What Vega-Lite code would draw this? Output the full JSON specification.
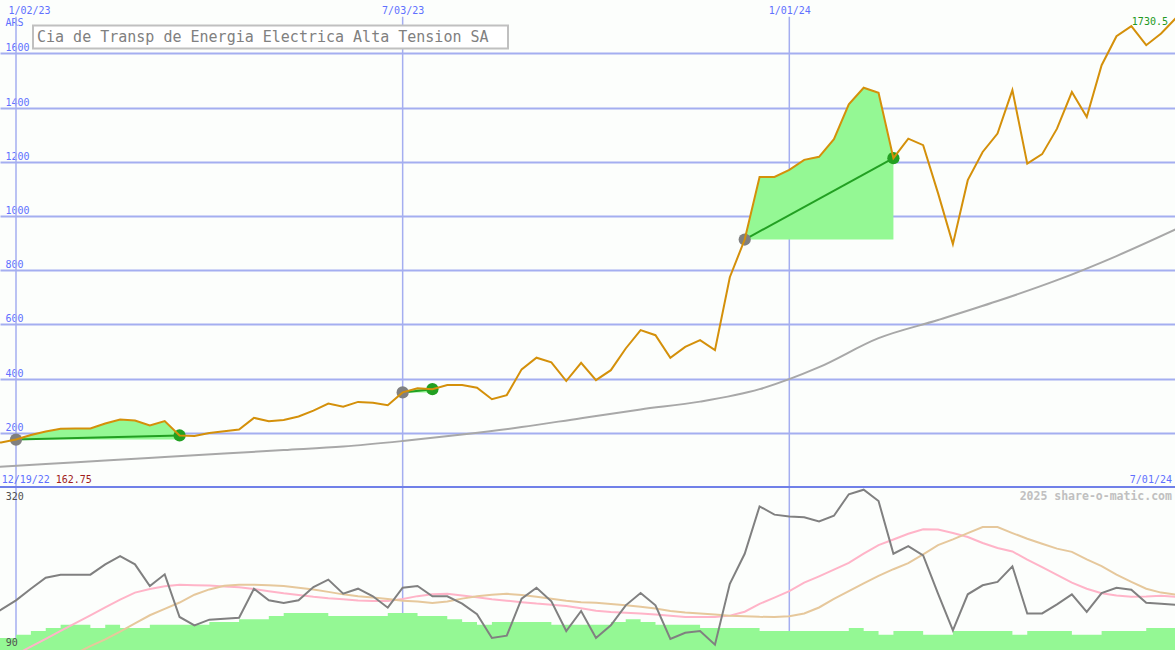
{
"$schema": "https://vega.github.io/schema/vega-lite/v6.json",
"width": 1175, "height": 650, "padding": 0, "autosize": {"type": "none"},
"background": "#fcfefc",
"config": {"view": {"stroke": null}, "axis": {"labelOverlap": false}},
"datasets": {
"weekly": [
{"date":"2022-12-19","price":162.75,"ma":72,"mom":135,"fast":61,"slow":40,"vol":107},
{"date":"2022-12-26","price":164,"mom":147,"fast":72.6,"slow":46,"vol":107},
{"date":"2023-01-02","price":175,"mom":160,"fast":83.7,"slow":52,"vol":111.6,"trade":1},
{"date":"2023-01-09","price":192,"mom":176.5,"fast":94.8,"slow":58,"vol":116.8,"trade":1},
{"date":"2023-01-16","price":205,"ma":85,"mom":192,"fast":105.8,"slow":64,"vol":121,"trade":1},
{"date":"2023-01-23","price":215,"mom":196.3,"fast":117,"slow":75,"vol":125.7,"trade":1},
{"date":"2023-01-30","price":216,"mom":196.3,"fast":128,"slow":85,"vol":125.7,"trade":1},
{"date":"2023-02-06","price":216,"mom":196.3,"fast":139,"slow":95.5,"vol":121,"trade":1},
{"date":"2023-02-13","price":234,"ma":97.7,"mom":210.9,"fast":150,"slow":105,"vol":125.7,"trade":1},
{"date":"2023-02-20","price":249,"mom":222.6,"fast":161,"slow":116,"vol":121,"trade":1},
{"date":"2023-02-27","price":245,"mom":210.9,"fast":171,"slow":127.5,"vol":121,"trade":1},
{"date":"2023-03-06","price":227,"mom":180.3,"fast":176,"slow":139,"vol":125.7,"trade":1},
{"date":"2023-03-13","price":243,"ma":110.6,"mom":196.8,"fast":180,"slow":148,"vol":125.7,"trade":1},
{"date":"2023-03-20","price":190,"mom":136.6,"fast":182,"slow":157,"vol":125.7,"trade":1},
{"date":"2023-03-27","price":188,"mom":124.8,"fast":181.5,"slow":168,"vol":125.7},
{"date":"2023-04-03","price":199,"mom":132.8,"fast":181,"slow":175.5,"vol":129.5},
{"date":"2023-04-10","price":206,"ma":123.5,"mom":134.2,"fast":179.5,"slow":180.5,"vol":129.5},
{"date":"2023-04-17","price":212,"mom":135.6,"fast":178.5,"slow":182.2,"vol":133.3},
{"date":"2023-04-24","price":255,"mom":176.5,"fast":176,"slow":182.2,"vol":133.3},
{"date":"2023-05-01","price":243,"mom":160.1,"fast":173,"slow":181.5,"vol":138},
{"date":"2023-05-08","price":247,"ma":136.4,"mom":156.3,"fast":170,"slow":180.3,"vol":142.2},
{"date":"2023-05-15","price":260,"mom":160.1,"fast":167.5,"slow":178,"vol":142.2},
{"date":"2023-05-22","price":282,"mom":178.9,"fast":165,"slow":175.5,"vol":142.2},
{"date":"2023-05-29","price":308,"mom":189.3,"fast":163,"slow":172,"vol":138},
{"date":"2023-06-05","price":296,"ma":149.3,"mom":169.5,"fast":161.5,"slow":168.5,"vol":138},
{"date":"2023-06-12","price":314,"mom":176.5,"fast":160,"slow":166,"vol":138},
{"date":"2023-06-19","price":311,"mom":165.8,"fast":159.2,"slow":164,"vol":138},
{"date":"2023-06-26","price":302,"mom":149.7,"fast":159.2,"slow":162,"vol":142.2},
{"date":"2023-07-03","price":349,"ma":169.6,"mom":177.9,"fast":162,"slow":159.5,"vol":142.2,"trade":2},
{"date":"2023-07-10","price":364,"mom":180.3,"fast":166,"slow":158.3,"vol":138,"trade":2},
{"date":"2023-07-17","price":361,"mom":165.8,"fast":168.5,"slow":156.3,"vol":138,"trade":2},
{"date":"2023-07-24","price":376,"mom":165.8,"fast":169.5,"slow":158.5,"vol":133.3},
{"date":"2023-07-31","price":376,"ma":193.5,"mom":155.4,"fast":167,"slow":162.5,"vol":129.5},
{"date":"2023-08-07","price":366,"mom":140.4,"fast":164.5,"slow":165.8,"vol":125.7},
{"date":"2023-08-14","price":324,"mom":107,"fast":161.5,"slow":168,"vol":129.5},
{"date":"2023-08-21","price":339,"mom":110.2,"fast":159.5,"slow":169.3,"vol":129.5},
{"date":"2023-08-28","price":434,"ma":221,"mom":162.4,"fast":157.5,"slow":167.5,"vol":129.5},
{"date":"2023-09-04","price":477,"mom":177.9,"fast":155.5,"slow":165,"vol":129.5},
{"date":"2023-09-11","price":460,"mom":158.7,"fast":154,"slow":162.3,"vol":125.7},
{"date":"2023-09-18","price":391,"mom":116.8,"fast":152,"slow":159.5,"vol":125.7},
{"date":"2023-09-25","price":458,"ma":254,"mom":145,"fast":149,"slow":157.5,"vol":125.7},
{"date":"2023-10-02","price":394,"mom":106.9,"fast":145.5,"slow":156.5,"vol":125.7},
{"date":"2023-10-09","price":431,"mom":124.8,"fast":143.5,"slow":155,"vol":129.5},
{"date":"2023-10-16","price":511,"mom":153,"fast":142.5,"slow":153,"vol":133.3},
{"date":"2023-10-23","price":579,"ma":286,"mom":170.4,"fast":141.5,"slow":151,"vol":129.5},
{"date":"2023-10-30","price":560,"mom":153,"fast":140,"slow":148.5,"vol":125.7},
{"date":"2023-11-06","price":477,"mom":105.5,"fast":138.5,"slow":145,"vol":125.7},
{"date":"2023-11-13","price":517,"mom":114.4,"fast":136.6,"slow":143,"vol":125.7},
{"date":"2023-11-20","price":542,"ma":315,"mom":116.8,"fast":136.6,"slow":141.5,"vol":121},
{"date":"2023-11-27","price":505,"mom":97.5,"fast":136.6,"slow":140,"vol":121},
{"date":"2023-12-04","price":774,"mom":183.5,"fast":138.5,"slow":138.5,"vol":121},
{"date":"2023-12-11","price":913,"mom":225.8,"fast":144,"slow":137.5,"vol":121,"trade":3},
{"date":"2023-12-18","price":1144,"ma":361,"mom":292.7,"fast":155,"slow":136.8,"vol":116.8,"trade":3},
{"date":"2023-12-25","price":1144,"mom":281,"fast":164,"slow":136.6,"vol":116.8,"trade":3},
{"date":"2024-01-01","price":1170,"mom":278.4,"fast":173,"slow":137.6,"vol":116.8,"trade":3},
{"date":"2024-01-08","price":1207,"mom":277.2,"fast":185,"slow":141.5,"vol":116.8,"trade":3},
{"date":"2024-01-15","price":1218,"ma":442,"mom":271.5,"fast":194,"slow":150,"vol":116.8,"trade":3},
{"date":"2024-01-22","price":1283,"mom":279.5,"fast":203.5,"slow":162,"vol":116.8,"trade":3},
{"date":"2024-01-29","price":1412,"mom":309.7,"fast":213,"slow":173,"vol":121,"trade":3},
{"date":"2024-02-05","price":1473,"mom":316.2,"fast":226,"slow":184,"vol":116.8,"trade":3},
{"date":"2024-02-12","price":1454,"ma":549,"mom":300.2,"fast":238,"slow":194.5,"vol":111.6,"trade":3},
{"date":"2024-02-19","price":1213,"mom":225.8,"fast":246,"slow":204,"vol":116.8,"trade":3},
{"date":"2024-02-26","price":1285,"mom":236.7,"fast":254,"slow":212.5,"vol":116.8},
{"date":"2024-03-04","price":1261,"mom":223.5,"fast":260.3,"slow":225,"vol":111.6},
{"date":"2024-03-11","price":1084,"ma":616,"mom":169.5,"fast":260,"slow":238,"vol":111.6},
{"date":"2024-03-18","price":896,"mom":117.8,"fast":255,"slow":246,"vol":116.8},
{"date":"2024-03-25","price":1132,"mom":168.6,"fast":249.5,"slow":255,"vol":116.8},
{"date":"2024-04-01","price":1236,"mom":181.3,"fast":241,"slow":263.5,"vol":116.8},
{"date":"2024-04-08","price":1304,"ma":686,"mom":186,"fast":234,"slow":263.5,"vol":116.8},
{"date":"2024-04-15","price":1464,"mom":208.1,"fast":229,"slow":255,"vol":111.6},
{"date":"2024-04-22","price":1193,"mom":141.6,"fast":217.5,"slow":247,"vol":116.8},
{"date":"2024-04-29","price":1228,"mom":141.6,"fast":207,"slow":240,"vol":116.8},
{"date":"2024-05-06","price":1322,"ma":763,"mom":154.4,"fast":196,"slow":233,"vol":116.8},
{"date":"2024-05-13","price":1457,"mom":168.6,"fast":185,"slow":228.5,"vol":111.6},
{"date":"2024-05-20","price":1365,"mom":143.7,"fast":176.5,"slow":218,"vol":111.6},
{"date":"2024-05-27","price":1556,"mom":170.4,"fast":170,"slow":208.5,"vol":116.8},
{"date":"2024-06-03","price":1663,"ma":852,"mom":177.9,"fast":167,"slow":196.5,"vol":116.8},
{"date":"2024-06-10","price":1700,"mom":175.1,"fast":165,"slow":186,"vol":116.8},
{"date":"2024-06-17","price":1630,"mom":156.7,"fast":165.5,"slow":176.5,"vol":121},
{"date":"2024-06-24","price":1673,"mom":155.4,"fast":166.7,"slow":171,"vol":121},
{"date":"2024-07-01","price":1730.5,"ma":951,"mom":153.6,"fast":165,"slow":168,"vol":121}
],
"trades": [
{"trade":1,"entryDate":"2023-01-02","entryPrice":175,"exitDate":"2023-03-20","exitPrice":190},
{"trade":2,"entryDate":"2023-07-03","entryPrice":349,"exitDate":"2023-07-17","exitPrice":361},
{"trade":3,"entryDate":"2023-12-11","entryPrice":913,"exitDate":"2024-02-19","exitPrice":1213}
]
},
"layer": [
{"layer": [
 {"data": {"values": [{"date":"2023-01-02"},{"date":"2023-07-03"},{"date":"2024-01-01"}]},
  "mark": {"type":"rule","color":"#a4aef0","strokeWidth":1.5},
  "encoding": {
   "x": {"field":"date","type":"temporal",
     "scale":{"type":"utc","domain":[{"year":2022,"month":12,"date":25,"hours":11,"minutes":15,"utc":true},{"year":2024,"month":6,"date":30,"hours":13,"utc":true}]},
     "axis":{"orient":"top","values":[{"year":2023,"month":1,"date":2,"utc":true},{"year":2023,"month":7,"date":3,"utc":true},{"year":2024,"month":1,"date":1,"utc":true}],
       "labelExpr":"utcFormat(datum.value, '%-m/%d/%y')","title":null,"grid":false,"domain":false,"ticks":false,"tickSize":0,"offset":-15,"labelPadding":2,"labelBaseline":"alphabetic","labelFlush":20,"labelFlushOffset":8,"labelFont":"DejaVu Sans Mono","labelFontSize":10,"labelColor":"#6070ff"}},
   "y": {"datum":1735,"type":"quantitative",
     "scale":{"domain":[0,1600],"range":[487,53.3],"nice":false,"zero":false},
     "axis":{"values":[200,400,600,800,1000,1200,1400,1600],"format":"d","grid":true,"gridColor":"#a4aef0","gridWidth":2,"domain":false,"ticks":false,"tickSize":0,
       "labelAlign":"left","labelBaseline":"alphabetic","labelPadding":-5,"labelOffset":-2.5,"labelFont":"DejaVu Sans Mono","labelFontSize":10,"labelColor":"#6070ff",
       "title":"ARS","titleAngle":0,"titleX":5,"titleY":25,"titleAlign":"left","titleBaseline":"alphabetic","titleFont":"DejaVu Sans Mono","titleFontSize":10,"titleFontWeight":"normal","titleColor":"#6070ff"}},
   "y2": {"datum":-600}
  }},
 {"data": {"name":"weekly"},
  "transform": [{"filter":"isValid(datum.ma)"}],
  "mark": {"type":"line","color":"#a8a8a8","strokeWidth":2,"interpolate":"monotone"},
  "encoding": {"x":{"field":"date","type":"temporal"},"y":{"field":"ma","type":"quantitative"}}},
 {"data": {"name":"weekly"},
  "transform": [{"filter":"isValid(datum.trade)"},{"joinaggregate":[{"op":"min","field":"price","as":"entryPrice"}],"groupby":["trade"]}],
  "mark": {"type":"area","color":"#94f894","opacity":1},
  "encoding": {"x":{"field":"date","type":"temporal"},"y":{"field":"price","type":"quantitative"},"y2":{"field":"entryPrice"},"detail":{"field":"trade","type":"nominal"}}},
 {"data": {"name":"trades"},
  "mark": {"type":"rule","color":"#22a022","strokeWidth":2},
  "encoding": {"x":{"field":"entryDate","type":"temporal"},"x2":{"field":"exitDate"},"y":{"field":"entryPrice","type":"quantitative"},"y2":{"field":"exitPrice"}}},
 {"data": {"name":"trades"},
  "mark": {"type":"circle","color":"#808080","size":150,"opacity":1},
  "encoding": {"x":{"field":"entryDate","type":"temporal"},"y":{"field":"entryPrice","type":"quantitative"}}},
 {"data": {"name":"trades"},
  "mark": {"type":"circle","color":"#22a022","size":150,"opacity":1},
  "encoding": {"x":{"field":"exitDate","type":"temporal"},"y":{"field":"exitPrice","type":"quantitative"}}},
 {"data": {"name":"weekly"},
  "mark": {"type":"line","color":"#d4900a","strokeWidth":2},
  "encoding": {"x":{"field":"date","type":"temporal"},"y":{"field":"price","type":"quantitative"}}},
 {"data": {"values":[{"label":"12/19/22"}]},
  "mark": {"type":"text","align":"left","baseline":"alphabetic","dx":0.5,"dy":-4,"font":"DejaVu Sans Mono","fontSize":10,"color":"#6070ff"},
  "encoding": {"x":{"datum":{"year":2022,"month":12,"date":26,"utc":true},"type":"temporal"},"y":{"datum":0,"type":"quantitative"},"text":{"field":"label"}}},
 {"data": {"values":[{"label":"162.75"}]},
  "mark": {"type":"text","align":"left","baseline":"alphabetic","dx":54.5,"dy":-4,"font":"DejaVu Sans Mono","fontSize":10,"color":"#a01c1c"},
  "encoding": {"x":{"datum":{"year":2022,"month":12,"date":26,"utc":true},"type":"temporal"},"y":{"datum":0,"type":"quantitative"},"text":{"field":"label"}}},
 {"data": {"values":[{"label":"7/01/24"}]},
  "mark": {"type":"text","align":"right","baseline":"alphabetic","dx":-4,"dy":-4,"font":"DejaVu Sans Mono","fontSize":10,"color":"#6070ff"},
  "encoding": {"x":{"datum":{"year":2024,"month":7,"date":1,"utc":true},"type":"temporal"},"y":{"datum":0,"type":"quantitative"},"text":{"field":"label"}}},
 {"data": {"values":[{"label":"1730.5","price":1730.5}]},
  "mark": {"type":"text","align":"right","baseline":"alphabetic","dx":-8,"dy":7.5,"font":"DejaVu Sans Mono","fontSize":10,"color":"#229922"},
  "encoding": {"x":{"datum":{"year":2024,"month":7,"date":1,"utc":true},"type":"temporal"},"y":{"field":"price","type":"quantitative"},"text":{"field":"label"}}},
 {"data": {"values":[{"label":"Cia de Transp de Energia Electrica Alta Tension SA"}]},
  "mark": {"type":"rect","fill":"#ffffff","stroke":"#c0c0c0","strokeWidth":2},
  "encoding": {"x":{"datum":{"year":2023,"month":1,"date":10,"utc":true},"type":"temporal"},"x2":{"datum":{"year":2023,"month":8,"date":21,"hours":14,"utc":true}},"y":{"datum":1703,"type":"quantitative"},"y2":{"datum":1618}}},
 {"data": {"values":[{"label":"Cia de Transp de Energia Electrica Alta Tension SA"}]},
  "mark": {"type":"text","align":"left","baseline":"alphabetic","dx":4,"font":"DejaVu Sans Mono","fontSize":15,"color":"#808080"},
  "encoding": {"x":{"datum":{"year":2023,"month":1,"date":10,"utc":true},"type":"temporal"},"y":{"datum":1642,"type":"quantitative"},"text":{"field":"label"}}},
 {"data": {"values":[{}]},
  "mark": {"type":"rule","color":"#7080e8","strokeWidth":2},
  "encoding": {"y":{"datum":0,"type":"quantitative"}}}
]},
{"layer": [
 {"data": {"name":"weekly"},
  "mark": {"type":"area","interpolate":"step-after","color":"#94f894"},
  "encoding": {"x":{"field":"date","type":"temporal"},
   "y":{"field":"vol","type":"quantitative","scale":{"domain":[90,320],"range":[650,487],"nice":false,"zero":false},"axis":null}}},
 {"data": {"name":"weekly"},
  "mark": {"type":"line","color":"#ffb4c8","strokeWidth":2},
  "encoding": {"x":{"field":"date","type":"temporal"},"y":{"field":"fast","type":"quantitative","axis":null}}},
 {"data": {"name":"weekly"},
  "mark": {"type":"line","color":"#e6c89c","strokeWidth":2},
  "encoding": {"x":{"field":"date","type":"temporal"},"y":{"field":"slow","type":"quantitative","axis":null}}},
 {"data": {"name":"weekly"},
  "mark": {"type":"line","color":"#808080","strokeWidth":2},
  "encoding": {"x":{"field":"date","type":"temporal"},"y":{"field":"mom","type":"quantitative","axis":null}}},
 {"data": {"values":[{"label":"320","v":320}]},
  "mark": {"type":"text","align":"left","baseline":"alphabetic","dx":4.5,"dy":13,"font":"DejaVu Sans Mono","fontSize":10,"color":"#505050"},
  "encoding": {"x":{"datum":{"year":2022,"month":12,"date":26,"utc":true},"type":"temporal"},"y":{"field":"v","type":"quantitative","axis":null},"text":{"field":"label"}}},
 {"data": {"values":[{"label":"90","v":90}]},
  "mark": {"type":"text","align":"left","baseline":"alphabetic","dx":4.5,"dy":-4,"font":"DejaVu Sans Mono","fontSize":10,"color":"#505050"},
  "encoding": {"x":{"datum":{"year":2022,"month":12,"date":26,"utc":true},"type":"temporal"},"y":{"field":"v","type":"quantitative","axis":null},"text":{"field":"label"}}},
 {"data": {"values":[{"label":"2025 share-o-matic.com"}]},
  "mark": {"type":"text","align":"right","baseline":"alphabetic","dx":-4,"dy":13,"font":"DejaVu Sans Mono","fontSize":11.5,"fontWeight":"bold","color":"#c0c0c0"},
  "encoding": {"x":{"datum":{"year":2024,"month":7,"date":1,"utc":true},"type":"temporal"},"y":{"datum":320,"type":"quantitative","axis":null},"text":{"field":"label"}}}
]}
],
"resolve": {"scale": {"y": "independent"}, "axis": {"y": "independent"}}
}
